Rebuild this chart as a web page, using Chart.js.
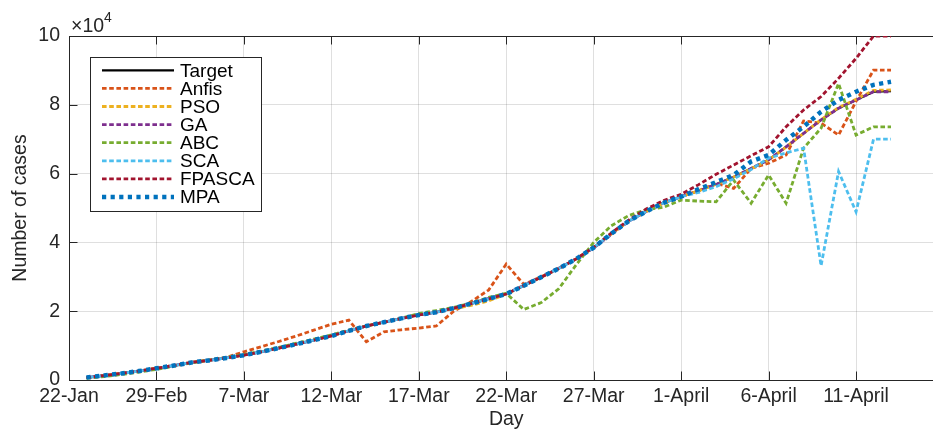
<!DOCTYPE html>
<html>
<head>
<meta charset="utf-8">
<script src="https://cdn.jsdelivr.net/npm/chart.js@4.4.1/dist/chart.umd.min.js"></script>
<style>
html, body { margin: 0; padding: 0; background: #fff; overflow: hidden; }
#wrap { width: 960px; height: 429px; }
</style>
</head>
<body>
<div id="wrap"><canvas id="casesChart" width="960" height="429" style="width:960px;height:429px"></canvas></div>
<script>
//DATA
var dayIdx = [1,2,3,4,5,6,7,8,9,10,11,12,13,14,15,16,17,18,19,20,21,22,23,24,25,26,27,28,29,30,31,32,33,34,35,36,37,38,39,40,41,42,43,44,45,46,47];

var xTickPos = [0,5,10,15,20,25,30,35,40,45];
var xTickLabels = ['22-Jan','29-Feb','7-Mar','12-Mar','17-Mar','22-Mar','27-Mar','1-April','6-April','11-April'];
var yTickPos = [0,20000,40000,60000,80000,100000];

var targetCases = [700,1300,1900,2600,3400,4200,5100,5700,6400,7200,8200,9300,10400,11600,12800,14300,15700,16800,17900,18900,19700,20900,22200,23600,25000,27400,29900,32400,35200,38500,42500,46200,49000,51500,53300,55000,56900,59000,61500,64000,67800,71700,75600,79000,81400,83800,84000];
var anfisCases = [700,1300,1900,2600,3400,4200,5100,5800,6600,8200,9700,11200,12800,14500,16200,17400,11100,14000,14600,15100,15700,20000,22800,26200,33700,27800,30000,32400,35200,38500,42500,46200,49000,51500,53300,55000,57200,55700,61500,63000,65400,75300,74700,71200,81000,90100,90100];
var psoCases = [700,1300,1900,2600,3400,4200,5100,5700,6400,7200,8200,9300,10400,11600,12800,14300,15700,16800,17900,19000,19800,20700,21700,23000,25000,27400,29900,32400,35200,38500,42500,46200,49000,51500,53300,55000,56900,59000,61400,63900,67700,71700,75700,79200,81600,84200,84300];
var gaCases = [700,1300,1900,2600,3400,4200,5100,5700,6400,7200,8200,9300,10400,11600,12800,14300,15700,16800,17900,18900,19700,20900,22300,23700,25100,27500,30000,32500,35200,38400,42300,46100,49000,51500,53300,55000,56800,58900,61500,64000,67800,71700,75600,79000,81400,83800,83800];
var abcCases = [500,1000,1600,2300,3100,4000,5000,5800,6600,7400,8400,9500,10700,11900,13100,14500,15700,16800,18000,19300,20200,21100,22400,24000,25200,20500,22500,26500,33500,40000,44800,47800,49500,50200,52300,52000,51800,58100,51400,59600,51400,67400,73200,86200,71200,73600,73600];
var scaCases = [700,1300,1900,2600,3400,4200,5100,5700,6400,7200,8200,9300,10400,11600,12800,14300,15700,16800,17900,18900,19700,20900,22200,23600,25000,27400,29900,32400,35200,38500,42500,46200,49000,51500,53300,54500,56200,58500,61200,64500,66000,67400,33200,60600,48900,70000,70000];
var fpascaCases = [700,1300,1900,2600,3400,4200,5100,5700,6400,7200,8200,9300,10400,11600,12800,14300,15700,16800,17900,18900,19700,20900,22200,23600,25000,27400,29900,32400,35200,38600,42700,46500,49700,52200,54000,56800,59800,62500,65200,67800,73600,78500,82400,87700,93500,100000,100000];
var mpaCases = [700,1300,1900,2600,3400,4200,5100,5700,6400,7200,8200,9300,10400,11600,12800,14300,15700,16800,17900,18900,19700,20900,22200,23600,25000,27400,29900,32400,35200,38500,42500,46200,49000,51500,53300,55500,57500,59600,63500,65400,69800,73600,78000,81400,83800,85800,86700];

var seriesNames = ['Target','Anfis','PSO','GA','ABC','SCA','FPASCA','MPA'];
var seriesValues = [targetCases, anfisCases, psoCases, gaCases, abcCases, scaCases, fpascaCases, mpaCases];
var seriesColors = ['#000000','#D95319','#EDB120','#7E2F8E','#77AC30','#4DBEEE','#A2142F','#0072BD'];

//STYLE CONFIG
var axisColor = '#262626';
var fontFamily = '"Liberation Sans", Arial, Helvetica, sans-serif';
var fontSize = 19.5;
var tickLen = 8.5;

//BUILD DATASETS
var datasets = seriesNames.map(function(name, k) {
    var isTarget = k === 0;
    var isMpa = name === 'MPA';
    return {
        label: name,
        data: dayIdx.map(function(d, i) { return { x: d, y: seriesValues[k][i] }; }),
        borderColor: seriesColors[k],
        backgroundColor: seriesColors[k],
        borderWidth: isTarget ? 2.2 : (isMpa ? 4.5 : 2.8),
        borderDash: isTarget ? [] : (isMpa ? [4.2, 4.4] : [4.6, 2.6]),
        borderDashOffset: (name === 'GA' || name === 'SCA') ? 3.6 : 0,
        pointRadius: 0,
        tension: 0,
        fill: false,
        order: seriesNames.length - k
    };
});

//AXES FRAME, INWARD TICKS AND EXPONENT LABEL
var matlabFrame = {
    id: 'matlabFrame',
    beforeDatasetsDraw: function(chart) {
        var ctx = chart.ctx, a = chart.chartArea;
        var xs = chart.scales.x, ys = chart.scales.y;
        ctx.save();
        ctx.strokeStyle = axisColor;
        ctx.lineWidth = 1;
        ctx.strokeRect(Math.round(a.left) + 0.5, Math.round(a.top) + 0.5, a.right - a.left, a.bottom - a.top);
        ctx.beginPath();
        xs.ticks.forEach(function(t) {
            var px = Math.round(xs.getPixelForValue(t.value)) + 0.5;
            ctx.moveTo(px, a.bottom); ctx.lineTo(px, a.bottom - tickLen);
            ctx.moveTo(px, a.top); ctx.lineTo(px, a.top + tickLen);
        });
        ys.ticks.forEach(function(t) {
            var py = Math.round(ys.getPixelForValue(t.value)) + 0.5;
            ctx.moveTo(a.left, py); ctx.lineTo(a.left + tickLen, py);
            ctx.moveTo(a.right, py); ctx.lineTo(a.right - tickLen, py);
        });
        ctx.stroke();

        ctx.fillStyle = axisColor;
        ctx.textBaseline = 'alphabetic';
        ctx.textAlign = 'left';
        ctx.font = fontSize + 'px ' + fontFamily;
        ctx.fillText('\u00d710', a.left + 2, a.top - 4);
        var w = ctx.measureText('\u00d710').width;
        ctx.font = '14px ' + fontFamily;
        ctx.fillText('4', a.left + 2 + w, a.top - 14);
        ctx.restore();
    }
};

//LEGEND INSIDE THE AXES
var innerLegend = {
    id: 'innerLegend',
    afterDraw: function(chart) {
        var ctx = chart.ctx, a = chart.chartArea;
        var bx = Math.round(a.left + 21) + 0.5, by = Math.round(a.top + 21) + 0.5;
        var bw = 171, bh = 154;
        ctx.save();
        ctx.fillStyle = '#ffffff';
        ctx.fillRect(bx, by, bw, bh);
        ctx.strokeStyle = axisColor;
        ctx.lineWidth = 1;
        ctx.strokeRect(bx, by, bw, bh);
        chart.data.datasets.forEach(function(ds, k) {
            var ry = by + 12.8 + k * 18.1;
            ctx.beginPath();
            ctx.strokeStyle = ds.borderColor;
            ctx.lineWidth = ds.borderWidth;
            ctx.setLineDash(ds.borderDash);
            ctx.moveTo(bx + 11.5, ry);
            ctx.lineTo(bx + 83.5, ry);
            ctx.stroke();
            ctx.setLineDash([]);
            ctx.fillStyle = '#000000';
            ctx.font = '19px ' + fontFamily;
            ctx.textBaseline = 'middle';
            ctx.textAlign = 'left';
            ctx.fillText(ds.label, bx + 89.5, ry + 1);
        });
        ctx.restore();
    }
};

var ctxCases = document.getElementById('casesChart').getContext('2d');
var casesChart = new Chart(ctxCases, {
    type: 'line',
    data: { datasets: datasets },
    plugins: [matlabFrame, innerLegend],
    options: {
        responsive: false,
        animation: false,
        layout: { padding: { top: 36, right: 16.5, bottom: 0, left: 0 } },
        plugins: {
            legend: { display: false },
            tooltip: { enabled: false }
        },
        scales: {
            x: {
                type: 'linear',
                min: 0,
                max: 50,
                afterBuildTicks: function(s) {
                    s.ticks = xTickPos.map(function(v) { return { value: v }; });
                },
                afterFit: function(s) { s.height = 49; },
                ticks: {
                    autoSkip: false,
                    maxRotation: 0,
                    padding: 5,
                    color: axisColor,
                    font: { family: fontFamily, size: fontSize },
                    callback: function(v, i) { return xTickLabels[i]; }
                },
                grid: { color: 'rgba(38,38,38,0.15)', lineWidth: 1, drawTicks: false },
                border: { display: false },
                title: {
                    display: true,
                    text: 'Day',
                    color: axisColor,
                    font: { family: fontFamily, size: fontSize },
                    padding: { top: 0, bottom: -2 }
                }
            },
            y: {
                min: 0,
                max: 100000,
                afterBuildTicks: function(s) {
                    s.ticks = yTickPos.map(function(v) { return { value: v }; });
                },
                afterFit: function(s) { s.width = 69; },
                ticks: {
                    padding: 9,
                    color: axisColor,
                    font: { family: fontFamily, size: fontSize },
                    callback: function(v) { return String(v / 10000); }
                },
                grid: { color: 'rgba(38,38,38,0.15)', lineWidth: 1, drawTicks: false },
                border: { display: false },
                title: {
                    display: true,
                    text: 'Number of cases',
                    color: axisColor,
                    font: { family: fontFamily, size: fontSize },
                    padding: { top: 9, bottom: 0 }
                }
            }
        }
    }
});
</script>
</body>
</html>
